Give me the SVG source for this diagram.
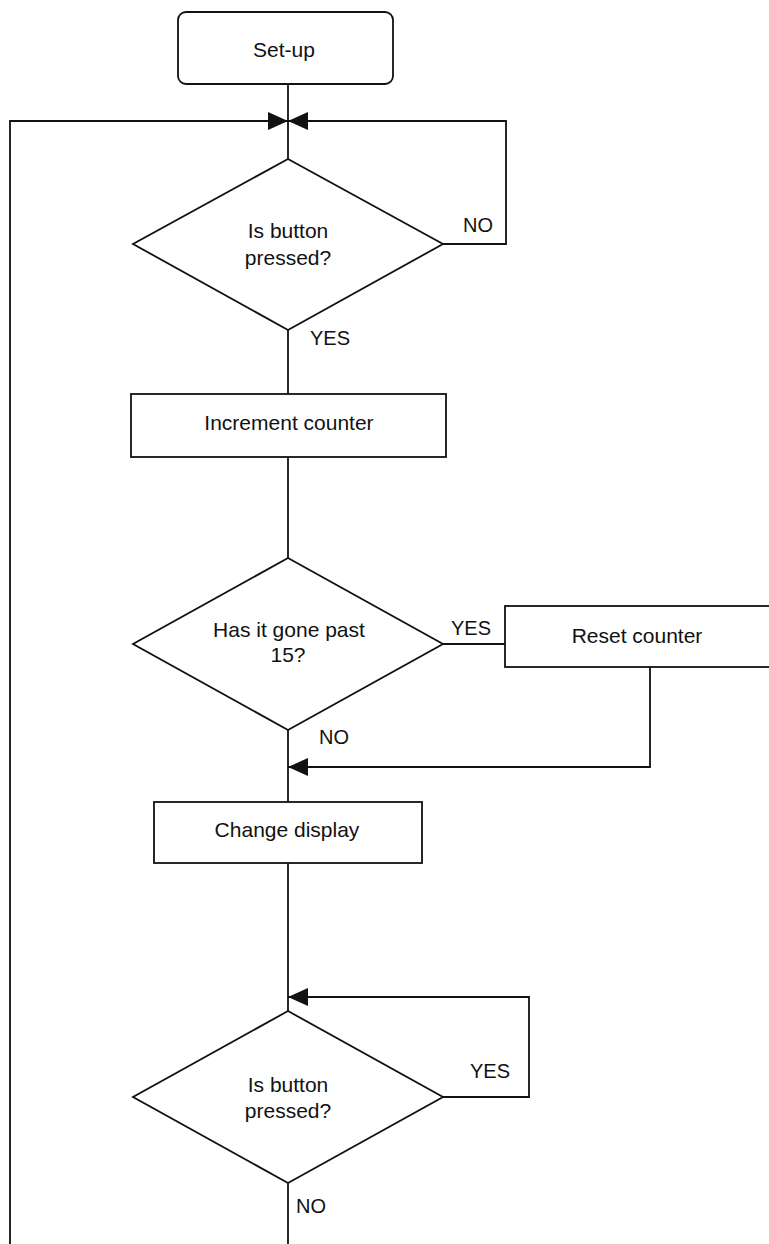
<svg xmlns="http://www.w3.org/2000/svg" width="769" height="1244" viewBox="0 0 769 1244">
  <style>
    .shape { fill: #ffffff; stroke: #111111; stroke-width: 1.8; }
    .wire { fill: none; stroke: #111111; stroke-width: 1.8; }
    .txt { font-family: "Liberation Sans", Arial, sans-serif; font-size: 21px; fill: #111111; text-anchor: middle; }
    .lbl { font-family: "Liberation Sans", Arial, sans-serif; font-size: 20px; fill: #111111; }
  </style>
  <defs>
    <marker id="arrow" markerUnits="userSpaceOnUse" markerWidth="21" markerHeight="19" refX="20" refY="9" orient="auto">
      <path d="M0,0 L20,9 L0,18 Z" fill="#111111"/>
    </marker>
  </defs>
  <rect width="769" height="1244" fill="#ffffff"/>

  <!-- connectors -->
  <g id="connectors">
    <line class="wire" x1="288" y1="84" x2="288" y2="159"/>
    <polyline class="wire" points="10,1244 10,121 288,121" marker-end="url(#arrow)"/>
    <polyline class="wire" points="443,244 506,244 506,121 288,121" marker-end="url(#arrow)"/>
    <line class="wire" x1="288" y1="330" x2="288" y2="394"/>
    <line class="wire" x1="288" y1="457" x2="288" y2="558"/>
    <line class="wire" x1="443" y1="644" x2="505" y2="644"/>
    <polyline class="wire" points="650,667 650,767 288,767" marker-end="url(#arrow)"/>
    <line class="wire" x1="288" y1="730" x2="288" y2="802"/>
    <line class="wire" x1="288" y1="863" x2="288" y2="1011"/>
    <polyline class="wire" points="443,1097 529,1097 529,997 288,997" marker-end="url(#arrow)"/>
    <line class="wire" x1="288" y1="1183" x2="288" y2="1244"/>
    <text class="lbl" x="463" y="232">NO</text>
    <text class="lbl" x="310" y="345">YES</text>
    <text class="lbl" x="451" y="635">YES</text>
    <text class="lbl" x="319" y="744">NO</text>
    <text class="lbl" x="470" y="1078">YES</text>
    <text class="lbl" x="296" y="1213">NO</text>
  </g>

  <g id="setup">
    <rect class="shape" x="178" y="12" width="215" height="72" rx="8"/>
    <text class="txt" x="284" y="57">Set-up</text>
  </g>

  <g id="button-check-1">
    <polygon class="shape" points="288,159 443,244 288,330 133,244"/>
    <text class="txt" x="288" y="238">Is button</text>
    <text class="txt" x="288" y="265">pressed?</text>
  </g>

  <g id="increment">
    <rect class="shape" x="131" y="394" width="315" height="63"/>
    <text class="txt" x="289" y="430">Increment counter</text>
  </g>

  <g id="overflow-check">
    <polygon class="shape" points="288,558 443,644 288,730 133,644"/>
    <text class="txt" x="289" y="637">Has it gone past</text>
    <text class="txt" x="288" y="662">15?</text>
  </g>

  <g id="reset">
    <rect class="shape" x="505" y="606" width="270" height="61"/>
    <text class="txt" x="637" y="643">Reset counter</text>
  </g>

  <g id="display">
    <rect class="shape" x="154" y="802" width="268" height="61"/>
    <text class="txt" x="287" y="837">Change display</text>
  </g>

  <g id="button-check-2">
    <polygon class="shape" points="288,1011 443,1097 288,1183 133,1097"/>
    <text class="txt" x="288" y="1092">Is button</text>
    <text class="txt" x="288" y="1118">pressed?</text>
  </g>
</svg>
